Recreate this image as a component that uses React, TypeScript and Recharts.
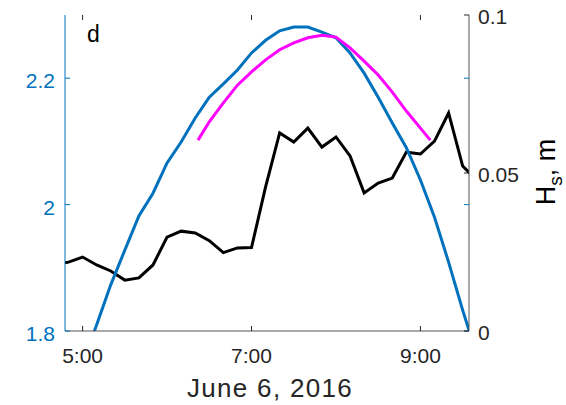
import { ComposedChart, Line, XAxis, YAxis } from "recharts";

// times are minutes after midnight, June 6 2016
const TIDE_TIMES = [300, 310, 320, 330, 340, 350, 360, 370, 380, 390, 400, 410, 420, 430, 440, 450, 460, 470, 480, 490, 500, 510, 520, 530, 540, 550, 560, 570, 580];
const TIDE_LEVEL = [1.748, 1.81, 1.873, 1.928, 1.982, 2.018, 2.066, 2.099, 2.137, 2.17, 2.191, 2.213, 2.24, 2.26, 2.275, 2.281, 2.281, 2.273, 2.264, 2.24, 2.208, 2.17, 2.129, 2.09, 2.039, 1.98, 1.909, 1.833, 1.762];

const HS_TIMES = [280, 290, 300, 310, 320, 330, 340, 350, 360, 370, 380, 390, 400, 410, 420, 430, 440, 450, 460, 470, 480, 490, 500, 510, 520, 530, 540, 550, 560, 570, 580];
const HS_VALUES = [0.021, 0.0218, 0.0234, 0.0209, 0.019, 0.0161, 0.0168, 0.0209, 0.0297, 0.0316, 0.031, 0.0286, 0.0248, 0.0263, 0.0264, 0.0456, 0.0627, 0.0598, 0.0642, 0.0582, 0.0614, 0.0554, 0.0437, 0.0468, 0.0484, 0.0566, 0.056, 0.0601, 0.069, 0.0522, 0.0478];

const MODEL_TIMES = [382, 390, 400, 410, 420, 430, 440, 450, 460, 470, 480, 490, 500, 510, 520, 530, 540, 547];
const MODEL_LEVEL = [2.102, 2.131, 2.161, 2.189, 2.21, 2.229, 2.245, 2.256, 2.264, 2.268, 2.265, 2.248, 2.227, 2.205, 2.178, 2.148, 2.121, 2.102];

const TIME_TICKS = [300, 420, 540];
const LEFT_TICKS = [1.8, 2, 2.2];
const RIGHT_TICKS = [0, 0.05, 0.1];

const BLUE = "#0072BD";
const MAGENTA = "#FF00FF";
const TEXT = "#262626";
const BOX = "#555555";
const FONT = "'Liberation Sans', Arial, sans-serif";

const PLOT_W = 404;
const PLOT_H = 316;

const tide = TIDE_TIMES.map((t, i) => ({ t, v: TIDE_LEVEL[i] }));
const hs = HS_TIMES.map((t, i) => ({ t, v: HS_VALUES[i] }));
const model = MODEL_TIMES.map((t, i) => ({ t, v: MODEL_LEVEL[i] }));

const fmtTime = (m: number) => `${Math.floor(m / 60)}:${String(m % 60).padStart(2, "0")}`;

// tickMargin is 10 and tickSize 0 on every axis, so the axis line sits 10px from x/y
const LeftTick = ({ x, y, payload }: any) => {
  const ax = x + 10;
  return (
    <g>
      <line x1={ax} x2={ax + 5} y1={y} y2={y} stroke={BLUE} />
      <line x1={ax + PLOT_W - 5} x2={ax + PLOT_W} y1={y} y2={y} stroke={BLUE} />
      <text x={x} y={y + 10} textAnchor="end" fill={BLUE} fontSize={21} fontFamily={FONT}>
        {String(payload.value)}
      </text>
    </g>
  );
};

const RightTick = ({ x, y, payload }: any) => {
  const ax = x - 10;
  return (
    <g>
      <line x1={ax - 5} x2={ax} y1={y} y2={y} stroke={TEXT} />
      <text x={x - 1} y={y + 9} textAnchor="start" fill={TEXT} fontSize={21} fontFamily={FONT}>
        {String(payload.value)}
      </text>
    </g>
  );
};

const BottomTick = ({ x, y, payload }: any) => {
  const ay = y - 10;
  return (
    <g>
      <line x1={x} x2={x} y1={ay} y2={ay - 5} stroke={TEXT} />
      <line x1={x} x2={x} y1={ay - PLOT_H} y2={ay - PLOT_H + 5} stroke={TEXT} />
      <text x={x} y={y + 22} textAnchor="middle" fill={TEXT} fontSize={21} fontFamily={FONT}>
        {fmtTime(payload.value)}
      </text>
    </g>
  );
};

export default function App() {
  return (
    <div style={{ position: "absolute", left: 0, top: 0, width: 566, height: 405, background: "#fff" }}>
      <ComposedChart width={566} height={405} margin={{ top: 15, right: 0, bottom: 0, left: 0 }}>
        <XAxis
          dataKey="t"
          type="number"
          domain={[287.5, 574.5]}
          allowDataOverflow
          ticks={TIME_TICKS}
          tick={<BottomTick />}
          tickSize={0}
          tickMargin={10}
          tickLine={false}
          height={74}
          axisLine={{ stroke: BOX }}
        />
        <XAxis
          xAxisId="top"
          orientation="top"
          type="number"
          domain={[287.5, 574.5]}
          allowDataOverflow
          height={0}
          tick={false}
          tickLine={false}
          axisLine={{ stroke: BOX }}
        />
        <YAxis
          yAxisId="left"
          orientation="left"
          type="number"
          domain={[1.8, 2.3]}
          allowDataOverflow
          ticks={LEFT_TICKS}
          tick={<LeftTick />}
          tickSize={0}
          tickMargin={10}
          tickLine={false}
          width={65}
          axisLine={{ stroke: BLUE }}
        />
        <YAxis
          yAxisId="right"
          orientation="right"
          type="number"
          domain={[0, 0.1]}
          allowDataOverflow
          ticks={RIGHT_TICKS}
          tick={<RightTick />}
          tickSize={0}
          tickMargin={10}
          tickLine={false}
          width={97}
          axisLine={{ stroke: BOX }}
        />
        <Line
          yAxisId="right"
          data={hs}
          dataKey="v"
          type="linear"
          stroke="#000"
          strokeWidth={3}
          dot={false}
          isAnimationActive={false}
        />
        <Line
          yAxisId="left"
          data={tide}
          dataKey="v"
          type="linear"
          stroke={BLUE}
          strokeWidth={3}
          dot={false}
          isAnimationActive={false}
        />
        <Line
          yAxisId="left"
          data={model}
          dataKey="v"
          type="linear"
          stroke={MAGENTA}
          strokeWidth={3}
          dot={false}
          isAnimationActive={false}
        />
      </ComposedChart>
      <svg
        width={566}
        height={405}
        style={{ position: "absolute", left: 0, top: 0, pointerEvents: "none" }}
        fontFamily={FONT}
      >
        <text x={87} y={42} fontSize={23} fill="#000">d</text>
        <text x={270} y={397} textAnchor="middle" fontSize={26} letterSpacing={1.3} fill={TEXT}>
          June 6, 2016
        </text>
        <text transform="translate(555,172) rotate(-90)" textAnchor="middle" fontSize={27} fill="#000">
          H<tspan dy={7} fontSize={19}>s</tspan>
          <tspan dy={-7}>, m</tspan>
        </text>
      </svg>
    </div>
  );
}
